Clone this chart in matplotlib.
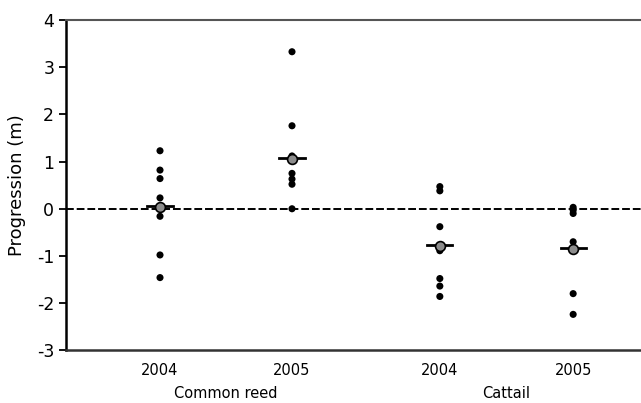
import numpy as np
import matplotlib.pyplot as plt

plt.rcParams["axes.unicode_minus"] = False

# values (m)
groups = ["Common reed", "Cattail"]
years = ["2004", "2005", "2004", "2005"]
reed_2004 = [1.23, 0.82, 0.64, 0.23, 0.06, -0.16, -0.98, -1.46]
reed_2005 = [3.33, 1.76, 1.12, 0.75, 0.63, 0.52, 0.0]
cattail_2004 = [0.47, 0.38, -0.38, -0.89, -1.48, -1.64, -1.86]
cattail_2005 = [0.03, -0.03, -0.1, -0.70, -1.80, -2.24]
means = [0.04, 1.06, -0.78, -0.86]
medians = [0.05, 1.08, -0.77, -0.84]

series = [reed_2004, reed_2005, cattail_2004, cattail_2005]
xpos = np.array([1.0, 2.0, 3.12, 4.13])

fig = plt.figure(figsize=(6.41, 4.03), dpi=100)
ax = fig.add_axes([0.103, 0.131, 0.897, 0.819])

ax.axhline(0, color="black", lw=1.4, ls=(0, (4, 1.5)), zorder=1)

for x, vals, mn, md in zip(xpos, series, means, medians):
    ax.scatter(np.full(len(vals), x), vals, s=26, color="black", zorder=3,
               edgecolors="none")
    ax.plot([x - 0.095, x + 0.095], [md, md], color="black", lw=2, zorder=4)
    ax.scatter([x], [mn], s=50, color="#8c8c8c", edgecolors="black",
               linewidths=1.2, zorder=5)

ax.set_xlim(0.288, 4.644)
ax.set_ylim(-3, 4)
ax.set_yticks(range(-3, 5))
ax.tick_params(axis="y", direction="out", length=5, width=1.3, labelsize=12.5)
ax.set_xticks(xpos)
ax.set_xticklabels(years)
ax.tick_params(axis="x", length=0, labelsize=10.5, pad=9)

ax.spines["right"].set_visible(False)
ax.spines["left"].set_linewidth(1.8)
ax.spines["bottom"].set_linewidth(1.8)
ax.spines["top"].set_linewidth(1.5)
ax.spines["top"].set_color("#555555")
ax.spines["bottom"].set_color("#333333")

ax.set_ylabel("Progression (m)", fontsize=13, labelpad=8)

for g, x in zip(groups, [xpos[:2].mean(), xpos[2:].mean()]):
    ax.text(x, -3.92, g, ha="center", va="center", fontsize=10.5)

fig.savefig("out.png", dpi=100)
